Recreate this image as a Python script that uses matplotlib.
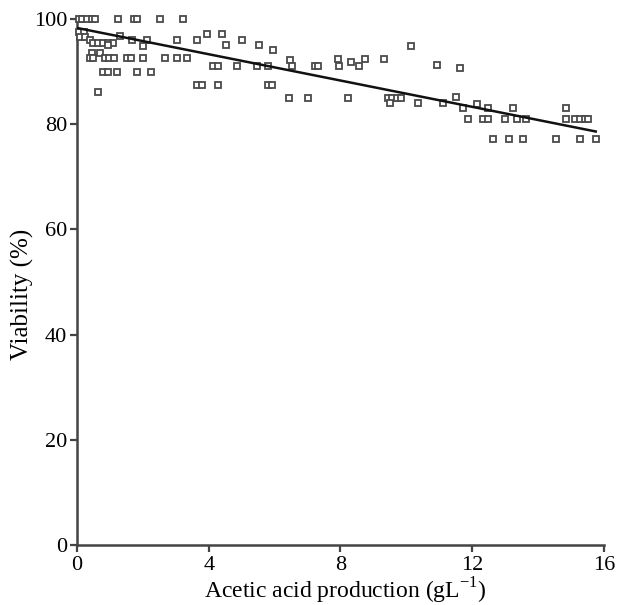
import matplotlib
matplotlib.use("Agg")
import matplotlib.pyplot as plt
import numpy as np

plt.rcParams.update({
    "font.family": ["Liberation Serif", "DejaVu Serif"],
    "mathtext.fontset": "custom",
    "mathtext.rm": "Liberation Serif",
    "font.size": 16,
})

# ─── Data ─────────────────────────────────────────────────────────────────────

acetic = [
    0.05, 0.15, 0.3, 0.45, 0.55,
    0.05, 0.2,
    0.1, 0.25, 0.4,
    0.5, 0.65, 0.8, 0.95, 1.1,
    0.45, 0.7,
    0.39, 0.50, 0.85, 0.98, 1.12, 1.51, 1.63, 2.01, 2.67, 3.03, 3.33,
    0.80, 0.95, 1.2, 1.81, 2.24,
    0.65,
    1.23, 1.73, 1.83, 2.52, 3.22,
    1.31, 1.66, 2.12, 3.03, 3.63, 0.94, 2.01, 3.94, 4.39, 4.51, 5.0,
    4.14, 4.29, 4.85,
    3.63, 3.79, 4.29,
    5.54, 5.94, 5.47, 5.81, 6.47, 6.54, 7.23, 7.33, 7.91, 7.96, 8.32, 8.57,
    8.74, 9.33, 10.13, 5.81, 5.91, 6.44, 7.02, 8.22, 9.45, 9.55, 9.71, 9.83,
    9.50, 10.34,
    10.94, 11.63, 11.10, 11.50, 11.73, 11.88, 12.13, 12.34, 12.49, 12.49,
    12.99, 13.25, 13.35, 13.63, 12.64, 13.12, 13.55, 14.54, 15.27, 15.75,
    14.84, 14.84, 15.12, 15.27, 15.42, 15.52,
]

viability = [
    100, 100, 100, 100, 100,
    97.5, 97.5,
    96.5, 96.5, 96.0,
    95.5, 95.5, 95.5, 95.5, 95.5,
    93.5, 93.5,
    92.6, 92.6, 92.6, 92.6, 92.6, 92.6, 92.6, 92.6, 92.6, 92.6, 92.6,
    90.0, 90.0, 90.0, 90.0, 90.0,
    86.2,
    100, 100, 100, 100, 100,
    96.7, 96.1, 96.1, 96.1, 96.1, 95.1, 94.9, 97.1, 97.1, 95.1, 96.1,
    91.1, 91.1, 91.1,
    87.5, 87.5, 87.5,
    95.1, 94.1, 91.1, 91.1, 92.2, 91.1, 91.1, 91.1, 92.3, 91.1, 91.9, 91.1,
    92.3, 92.3, 94.9, 87.5, 87.5, 85.0, 85.0, 85.0, 85.0, 85.0, 85.0, 85.0,
    84.1, 84.1,
    91.3, 90.7, 84.0, 85.1, 83.0, 80.9, 83.9, 80.9, 80.9, 83.1,
    80.9, 83.1, 80.9, 80.9, 77.2, 77.2, 77.2, 77.2, 77.2, 77.2,
    83.0, 80.9, 80.9, 80.9, 80.9, 80.9,
]

# linear fit
fit_intercept = 98.3
fit_slope = -1.25
fit_range = [0.0, 15.75]

x_ticks = [0, 4, 8, 12, 16]
y_ticks = [0, 20, 40, 60, 80, 100]

# ─── Plot ─────────────────────────────────────────────────────────────────────

fig = plt.figure(figsize=(6.18, 6.05), dpi=100)
ax = fig.add_axes([0.1246, 0.0992, 0.8527, 0.8694])

ax.plot(acetic, viability, ls="none", marker="s", ms=5.0, mfc="white",
        mec="#4a4a4a", mew=1.3, clip_on=False, zorder=3)

xf = np.array(fit_range)
ax.plot(xf, fit_intercept + fit_slope * xf, color="#111111", lw=1.8, zorder=4)

ax.set_xlim(0, 16)
ax.set_ylim(0, 100)
ax.set_xticks(x_ticks)
ax.set_yticks(y_ticks)

for side in ("top", "right"):
    ax.spines[side].set_visible(False)
for side in ("left", "bottom"):
    ax.spines[side].set_linewidth(1.8)
    ax.spines[side].set_color("#444444")
ax.tick_params(direction="out", length=5, width=1.6, color="#444444",
               labelsize=16)
ax.tick_params(axis="x", pad=3)
ax.tick_params(axis="y", pad=2)

ax.set_xlabel(r"Acetic acid production (gL$^{\mathregular{-1}}$)", fontsize=17)
ax.set_ylabel("Viability (%)", fontsize=18)
ax.xaxis.set_label_coords(0.51, -0.058)
ax.yaxis.set_label_coords(-0.082, 0.477)

fig.savefig("out.png", dpi=100)
